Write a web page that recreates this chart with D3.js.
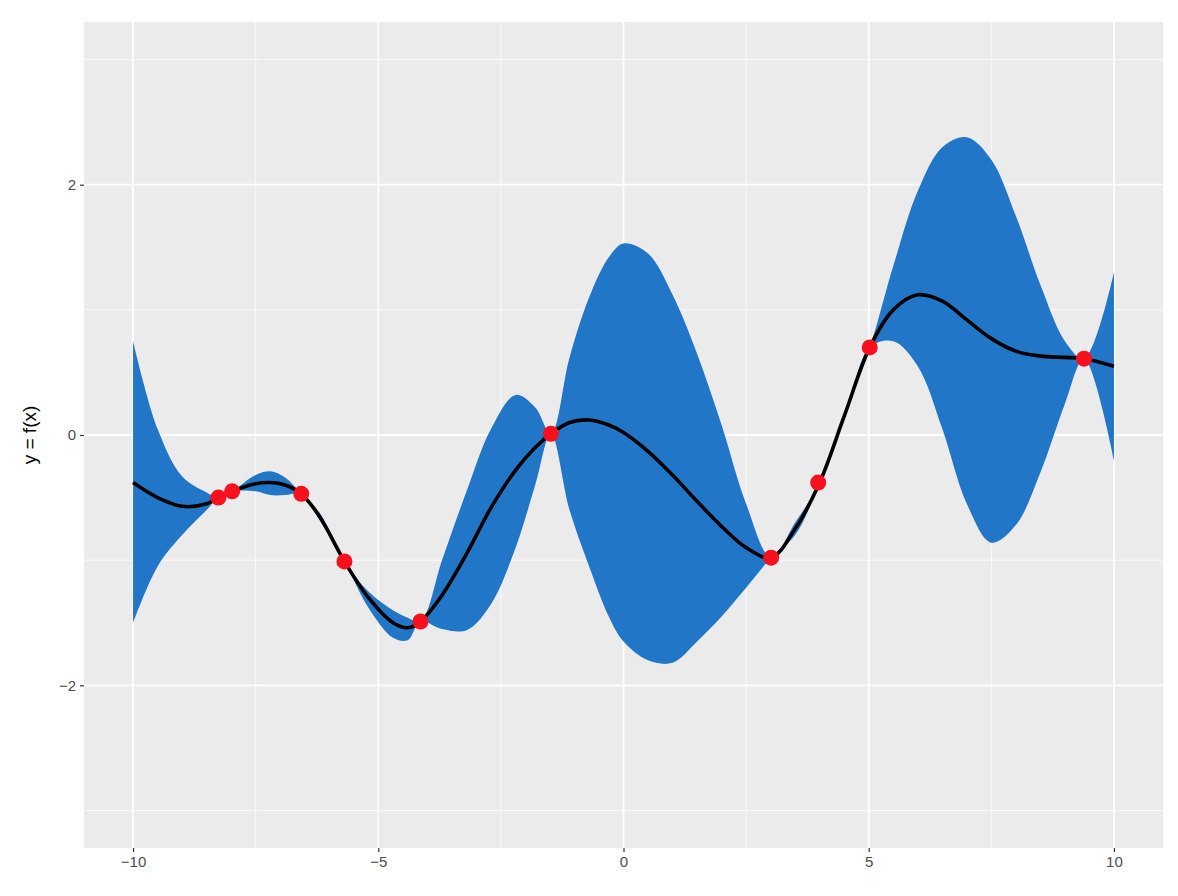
<!DOCTYPE html>
<html><head><meta charset="utf-8">
<script src="https://cdn.jsdelivr.net/npm/d3@7"></script>
<style>body{margin:0;background:#fff}</style>
</head><body>
<svg id="chart" width="1178" height="896"></svg>
<script>
var xs = [-10,-9.5,-9,-8.5,-8.26,-7.98,-7.5,-7.2,-6.9,-6.57,-6.2,-5.69,-5.2,-4.7,-4.4,-4.14,-3.7,-3.2,-2.7,-2.2,-1.8,-1.48,-1.1,-0.7,-0.3,0,0.5,1,1.5,2,2.5,3.01,3.5,4,4.5,5.02,5.5,6,6.5,7,7.5,8,8.5,9,9.39,10];
var meanY = [-0.38,-0.50,-0.57,-0.55,-0.50,-0.45,-0.39,-0.38,-0.40,-0.47,-0.65,-1.01,-1.30,-1.50,-1.54,-1.49,-1.28,-0.95,-0.58,-0.28,-0.10,0.01,0.10,0.12,0.08,0.02,-0.13,-0.32,-0.53,-0.73,-0.90,-0.98,-0.75,-0.38,0.15,0.70,1.00,1.12,1.07,0.92,0.77,0.67,0.63,0.62,0.61,0.55];
var upperY = [0.75,0.05,-0.33,-0.46,-0.50,-0.45,-0.32,-0.29,-0.34,-0.47,-0.62,-1.01,-1.25,-1.40,-1.46,-1.49,-1.00,-0.45,0.05,0.32,0.22,0.01,0.62,1.10,1.42,1.53,1.45,1.12,0.65,0.08,-0.55,-0.98,-0.70,-0.38,0.18,0.70,1.35,1.95,2.30,2.38,2.20,1.75,1.20,0.75,0.61,1.30];
var lowerY = [-1.50,-1.05,-0.80,-0.60,-0.50,-0.45,-0.45,-0.48,-0.48,-0.47,-0.68,-1.01,-1.38,-1.62,-1.64,-1.49,-1.55,-1.56,-1.35,-0.90,-0.40,0.01,-0.60,-1.05,-1.45,-1.65,-1.80,-1.82,-1.65,-1.45,-1.22,-0.98,-0.80,-0.38,0.12,0.70,0.75,0.55,0.05,-0.55,-0.86,-0.72,-0.30,0.25,0.61,-0.20];
// observed points
var obsX = [-8.26,-7.98,-6.57,-5.69,-4.14,-1.48,3.01,3.97,5.02,9.39];
var obsY = [-0.50,-0.45,-0.47,-1.01,-1.49,0.01,-0.98,-0.38,0.70,0.61];
var xTicks = [-10,-5,0,5,10], xMinor = [-7.5,-2.5,2.5,7.5];
var yTicks = [-2,0,2], yMinor = [-3,-1,1,3];

var svg = d3.select("#chart");
var L = 84, R = 1163, T = 22, B = 848;
var x = d3.scaleLinear().domain([-11,11]).range([L,R]);
var y = d3.scaleLinear().domain([-3.3,3.3]).range([B,T]);

svg.append("rect").attr("x",L).attr("y",T).attr("width",R-L).attr("height",B-T).attr("fill","#EBEBEB");
var g = svg.append("g");
xMinor.forEach(function(v){g.append("line").attr("x1",x(v)).attr("x2",x(v)).attr("y1",T).attr("y2",B).attr("stroke","#fff").attr("stroke-width",0.8);});
yMinor.forEach(function(v){g.append("line").attr("y1",y(v)).attr("y2",y(v)).attr("x1",L).attr("x2",R).attr("stroke","#fff").attr("stroke-width",0.8);});
xTicks.forEach(function(v){g.append("line").attr("x1",x(v)).attr("x2",x(v)).attr("y1",T).attr("y2",B).attr("stroke","#fff").attr("stroke-width",1.8);});
yTicks.forEach(function(v){g.append("line").attr("y1",y(v)).attr("y2",y(v)).attr("x1",L).attr("x2",R).attr("stroke","#fff").attr("stroke-width",1.8);});

var rows = xs.map(function(v,i){return {x:v,m:meanY[i],u:upperY[i],l:lowerY[i]};});
svg.append("path").datum(rows)
  .attr("d", d3.area().curve(d3.curveCatmullRom).x(function(d){return x(d.x);}).y0(function(d){return y(d.l);}).y1(function(d){return y(d.u);}))
  .attr("fill","#2176C8");
svg.append("path").datum(rows)
  .attr("d", d3.line().curve(d3.curveCatmullRom).x(function(d){return x(d.x);}).y(function(d){return y(d.m);}))
  .attr("fill","none").attr("stroke","#000").attr("stroke-width",3.6);
svg.selectAll(".pt").data(obsX).enter().append("circle")
  .attr("cx",function(d){return x(d);}).attr("cy",function(d,i){return y(obsY[i]);})
  .attr("r",8).attr("fill","#F8101E");

var xa = svg.append("g").attr("transform","translate(0,"+B+")")
  .call(d3.axisBottom(x).tickValues(xTicks).tickSize(4).tickPadding(4).tickFormat(function(d){return d<0?"\u2212"+(-d):d;}));
var ya = svg.append("g").attr("transform","translate("+L+",0)")
  .call(d3.axisLeft(y).tickValues(yTicks).tickSize(4).tickPadding(4).tickFormat(function(d){return d<0?"\u2212"+(-d):d;}));
[xa,ya].forEach(function(a){
  a.select(".domain").remove();
  a.selectAll("line").attr("stroke","#333").attr("stroke-width",1.2);
  a.selectAll("text").attr("fill","#4D4D4D").style("font-size","15px").style("font-family","Liberation Sans, Arial, sans-serif");
});
svg.append("text").attr("x",(L+R)/2).attr("y",906).attr("text-anchor","middle")
  .style("font-size","19px").style("font-family","Liberation Sans, Arial, sans-serif").text("x");
svg.append("text").attr("transform","translate(36,"+((T+B)/2)+") rotate(-90)").attr("text-anchor","middle")
  .style("font-size","19px").style("font-family","Liberation Sans, Arial, sans-serif").text("y = f(x)");
</script>
</body></html>
